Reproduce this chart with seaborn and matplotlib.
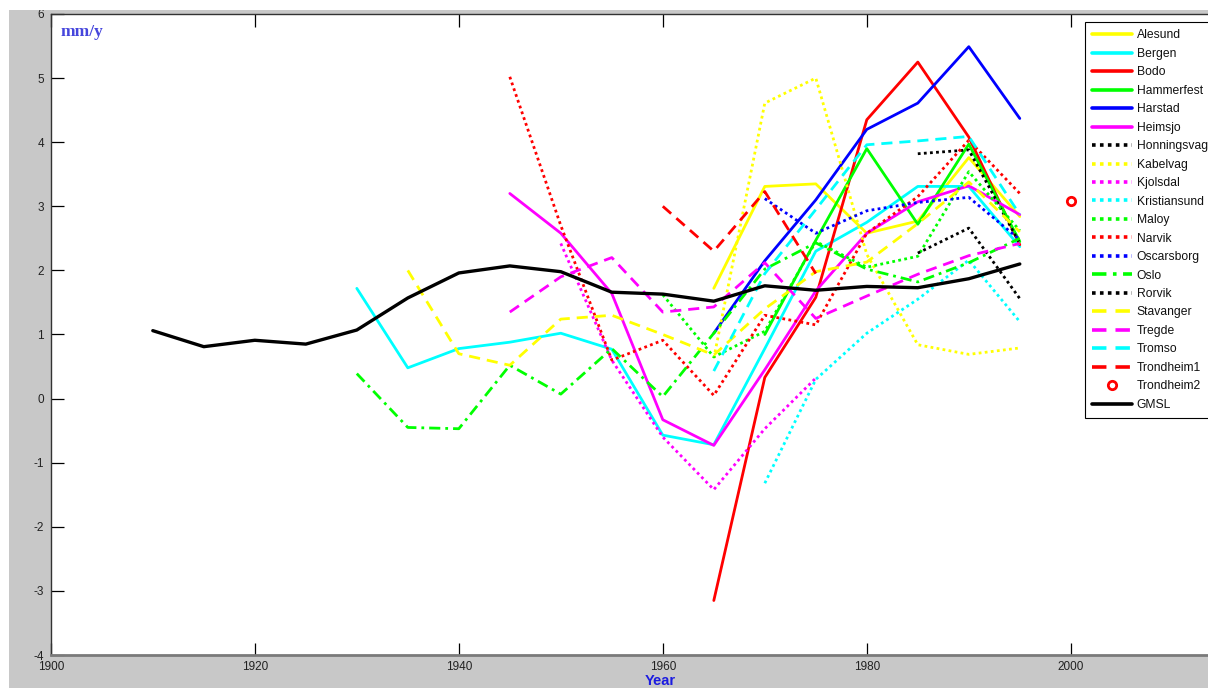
import matplotlib
matplotlib.use("Agg")
import matplotlib.pyplot as plt
from matplotlib.patches import Rectangle
import seaborn as sns

# ---- data: rate of sea level change (mm/y), 5-year steps ----
gmsl_years = [1910, 1915, 1920, 1925, 1930, 1935, 1940, 1945, 1950, 1955, 1960, 1965, 1970, 1975, 1980, 1985, 1990, 1995]
gmsl_vals = [1.06, 0.81, 0.91, 0.85, 1.07, 1.57, 1.96, 2.07, 1.98, 1.66, 1.63, 1.52, 1.76, 1.69, 1.75, 1.73, 1.87, 2.10]

alesund_years = [1965, 1970, 1975, 1980, 1985, 1990, 1995]
alesund_vals = [1.72, 3.31, 3.35, 2.58, 2.77, 3.76, 2.84]

bergen_years = [1930, 1935, 1940, 1945, 1950, 1955, 1960, 1965, 1970, 1975, 1980, 1985, 1990, 1995]
bergen_vals = [1.72, 0.48, 0.78, 0.88, 1.02, 0.77, -0.57, -0.72, 0.78, 2.30, 2.75, 3.31, 3.31, 2.37]

bodo_years = [1965, 1970, 1975, 1980, 1985, 1990, 1995]
bodo_vals = [-3.15, 0.33, 1.58, 4.35, 5.25, 4.08, 2.40]

hammerfest_years = [1970, 1975, 1980, 1985, 1990, 1995]
hammerfest_vals = [1.00, 2.47, 3.90, 2.72, 3.97, 2.45]

harstad_years = [1965, 1970, 1975, 1980, 1985, 1990, 1995]
harstad_vals = [1.02, 2.15, 3.10, 4.20, 4.61, 5.49, 4.37]

heimsjo_years = [1945, 1950, 1955, 1960, 1965, 1970, 1975, 1980, 1985, 1990, 1995]
heimsjo_vals = [3.20, 2.58, 1.64, -0.33, -0.73, 0.45, 1.68, 2.58, 3.07, 3.32, 2.87]

honningsvag_years = [1985, 1990, 1995]
honningsvag_vals = [3.82, 3.88, 2.42]

kabelvag_years = [1965, 1970, 1975, 1980, 1985, 1990, 1995]
kabelvag_vals = [0.63, 4.61, 5.00, 2.25, 0.84, 0.69, 0.79]

kjolsdal_years = [1950, 1955, 1960, 1965, 1970, 1975]
kjolsdal_vals = [2.42, 0.60, -0.60, -1.42, -0.47, 0.32]

kristiansund_years = [1970, 1975, 1980, 1985, 1990, 1995]
kristiansund_vals = [-1.32, 0.30, 1.02, 1.55, 2.16, 1.20]

maloy_years = [1960, 1965, 1970, 1975, 1980, 1985, 1990, 1995]
maloy_vals = [1.62, 0.65, 1.05, 2.45, 2.05, 2.22, 3.54, 2.62]

narvik_years = [1945, 1950, 1955, 1960, 1965, 1970, 1975, 1980, 1985, 1990, 1995]
narvik_vals = [5.02, 2.70, 0.60, 0.91, 0.05, 1.30, 1.15, 2.58, 3.15, 4.03, 3.20]

oscarsborg_years = [1970, 1975, 1980, 1985, 1990, 1995]
oscarsborg_vals = [3.12, 2.58, 2.93, 3.06, 3.14, 2.48]

oslo_years = [1930, 1935, 1940, 1945, 1950, 1955, 1960, 1965, 1970, 1975, 1980, 1985, 1990, 1995]
oslo_vals = [0.39, -0.45, -0.47, 0.52, 0.07, 0.78, 0.03, 1.02, 2.02, 2.43, 2.02, 1.82, 2.12, 2.50]

rorvik_years = [1985, 1990, 1995]
rorvik_vals = [2.27, 2.66, 1.56]

stavanger_years = [1935, 1940, 1945, 1950, 1955, 1960, 1965, 1970, 1975, 1980, 1985, 1990, 1995]
stavanger_vals = [2.00, 0.70, 0.52, 1.24, 1.30, 1.00, 0.68, 1.40, 1.98, 2.13, 2.73, 3.38, 2.60]

tregde_years = [1945, 1950, 1955, 1960, 1965, 1970, 1975, 1980, 1985, 1990, 1995]
tregde_vals = [1.35, 1.90, 2.20, 1.35, 1.43, 2.12, 1.25, 1.60, 1.94, 2.23, 2.42]

tromso_years = [1965, 1970, 1975, 1980, 1985, 1990, 1995]
tromso_vals = [0.43, 1.95, 2.95, 3.96, 4.02, 4.09, 2.87]

trondheim1_years = [1960, 1965, 1970, 1975]
trondheim1_vals = [3.00, 2.30, 3.23, 1.95]

trondheim2_years = [2000]
trondheim2_vals = [3.08]

# ---- styles ----
DOT = (0, (1.0, 1.2))
DASH = (0, (4.0, 2.5))
DASHDOT = (0, (4.0, 1.8, 1.0, 1.8))
Y, C, R, G, B, M, K = "#ffff00", "#00ffff", "#ff0000", "#00ff00", "#0000ff", "#ff00ff", "#000000"

series = [
    ("Alesund", alesund_years, alesund_vals, Y, "-"),
    ("Bergen", bergen_years, bergen_vals, C, "-"),
    ("Bodo", bodo_years, bodo_vals, R, "-"),
    ("Hammerfest", hammerfest_years, hammerfest_vals, G, "-"),
    ("Harstad", harstad_years, harstad_vals, B, "-"),
    ("Heimsjo", heimsjo_years, heimsjo_vals, M, "-"),
    ("Honningsvag", honningsvag_years, honningsvag_vals, K, DOT),
    ("Kabelvag", kabelvag_years, kabelvag_vals, Y, DOT),
    ("Kjolsdal", kjolsdal_years, kjolsdal_vals, M, DOT),
    ("Kristiansund", kristiansund_years, kristiansund_vals, C, DOT),
    ("Maloy", maloy_years, maloy_vals, G, DOT),
    ("Narvik", narvik_years, narvik_vals, R, DOT),
    ("Oscarsborg", oscarsborg_years, oscarsborg_vals, B, DOT),
    ("Oslo", oslo_years, oslo_vals, G, DASHDOT),
    ("Rorvik", rorvik_years, rorvik_vals, K, DOT),
    ("Stavanger", stavanger_years, stavanger_vals, Y, DASH),
    ("Tregde", tregde_years, tregde_vals, M, DASH),
    ("Tromso", tromso_years, tromso_vals, C, DASH),
    ("Trondheim1", trondheim1_years, trondheim1_vals, R, DASH),
]

sns.set_style("white")
plt.rcParams["font.family"] = ["Liberation Sans", "DejaVu Sans"]
plt.rcParams["axes.unicode_minus"] = False

W, H = 1208, 688
fig = plt.figure(figsize=(W / 100, H / 100), dpi=100, facecolor="#c8c8c8")

# white margins along the top and left edge
fig.patches.append(Rectangle((0, 1 - 10 / H), 1, 10 / H, transform=fig.transFigure,
                             facecolor="white", edgecolor="none", zorder=0))
fig.patches.append(Rectangle((0, 0), 9 / W, 1, transform=fig.transFigure,
                             facecolor="white", edgecolor="none", zorder=0))

px_year = 10.2
ax_left, ax_top, ax_bottom = 50.8, 14, 655
ax = fig.add_axes([ax_left / W, (H - ax_bottom) / H, 120 * px_year / W, (ax_bottom - ax_top) / H])
ax.set_facecolor("white")

LW = 2.0
for name, xs, ys, col, ls in series:
    sns.lineplot(x=xs, y=ys, ax=ax, color=col, linestyle=ls, linewidth=LW,
                 label=name, estimator=None, sort=False)

sns.lineplot(x=trondheim2_years, y=trondheim2_vals, ax=ax, color=R, linestyle="none",
             marker="o", markersize=6, markerfacecolor="none", markeredgecolor=R,
             markeredgewidth=2.0, label="Trondheim2", estimator=None)

sns.lineplot(x=gmsl_years, y=gmsl_vals, ax=ax, color=K, linestyle="-", linewidth=2.4,
             label="GMSL", estimator=None, sort=False)

ax.set_xlim(1900, 2020)
ax.set_ylim(-4, 6)
ax.set_xticks([1900, 1920, 1940, 1960, 1980, 2000])
ax.set_yticks(range(-4, 7))
ax.tick_params(direction="in", length=9, width=0.9, color="black",
               bottom=True, left=True, top=True, right=True,
               labelsize=8.5, labelcolor="#222222")
ax.tick_params(axis="x", pad=4)
ax.tick_params(axis="y", pad=5)
for side in ["top", "bottom", "left", "right"]:
    ax.spines[side].set_color("#333333")
    ax.spines[side].set_linewidth(1.0)
ax.spines["bottom"].set_color("#7a7a7a")
ax.spines["bottom"].set_linewidth(2.0)
ax.set_xlabel("")
ax.set_ylabel("")

leg = ax.legend(loc="upper left", bbox_to_anchor=(1085 / W, 1 - 22 / H),
                bbox_transform=fig.transFigure, fontsize=8.7, frameon=True,
                fancybox=False, edgecolor="black", framealpha=1.0,
                handlelength=3.3, handletextpad=0.35, labelspacing=0.535,
                borderpad=0.62, borderaxespad=0)
leg.get_frame().set_linewidth(0.8)
for t in leg.get_texts():
    t.set_color("#111111")
for h in leg.get_lines():
    if h.get_linestyle() != "None":
        h.set_linewidth(2.6)

fig.text(61 / W, 1 - 32 / H, "mm/y", family=["Liberation Serif", "DejaVu Serif"],
         fontweight="bold", fontsize=12.5, color="#4646dc", ha="left", va="center")
fig.text(660 / W, 1 - 681 / H, "Year", fontweight="bold", fontsize=10.5,
         color="#1c1ce0", ha="center", va="center")

fig.savefig("out.png", dpi=100, facecolor=fig.get_facecolor())
